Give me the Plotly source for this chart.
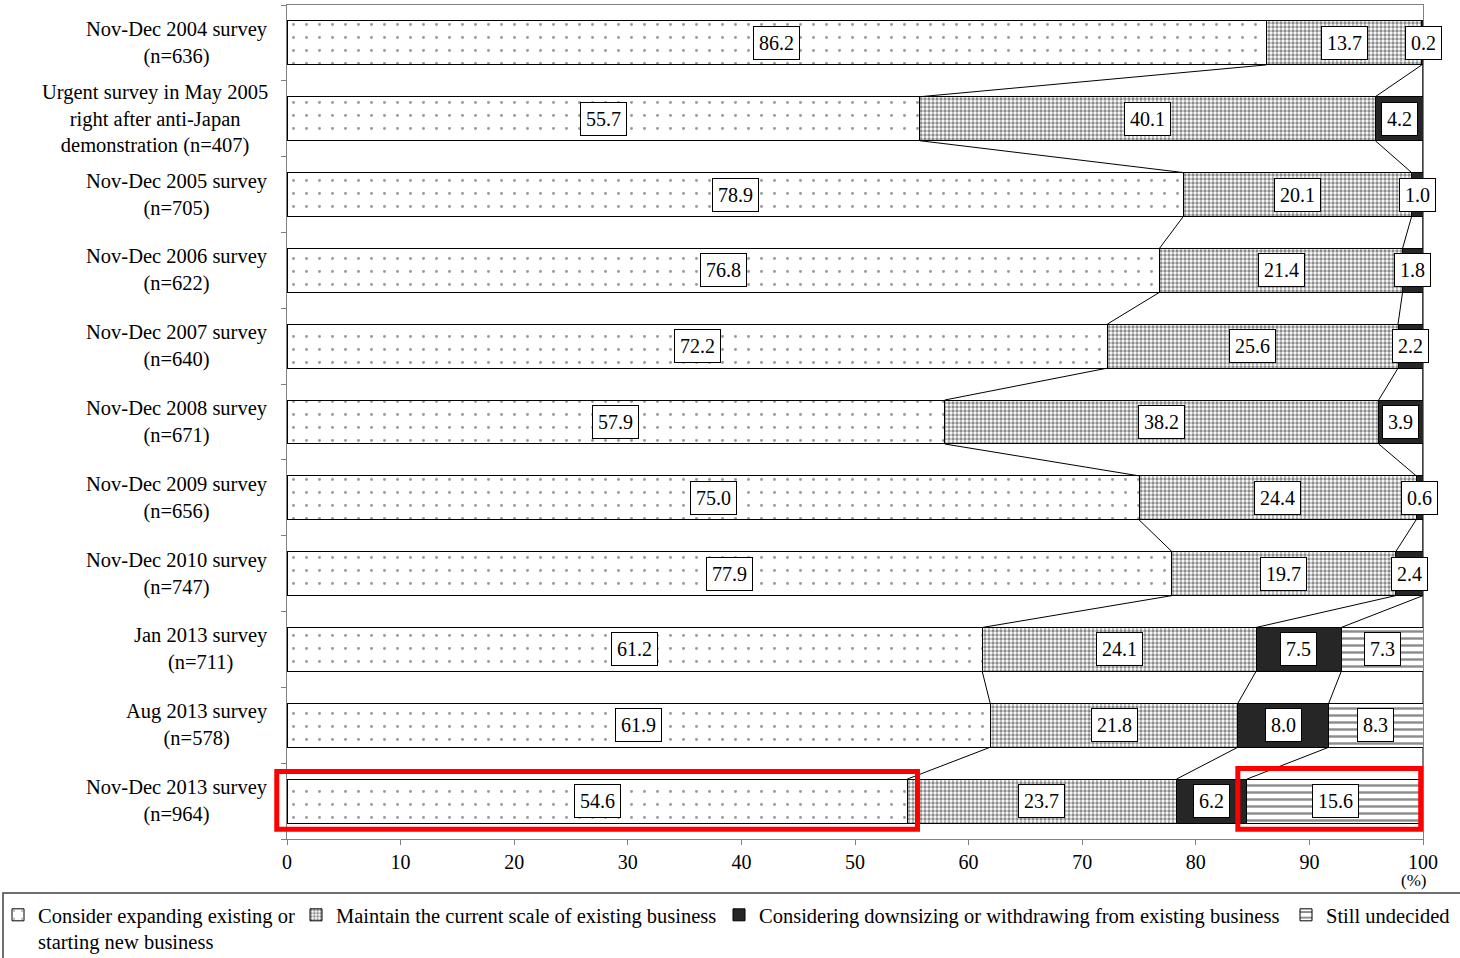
import plotly.graph_objects as go

# data
surveys = [
    "Nov-Dec 2004 survey<br>(n=636)",
    "Urgent survey in May 2005<br>right after anti-Japan<br>demonstration (n=407)",
    "Nov-Dec 2005 survey<br>(n=705)",
    "Nov-Dec 2006 survey<br>(n=622)",
    "Nov-Dec 2007 survey<br>(n=640)",
    "Nov-Dec 2008 survey<br>(n=671)",
    "Nov-Dec 2009 survey<br>(n=656)",
    "Nov-Dec 2010 survey<br>(n=747)",
    "Jan 2013 survey<br>(n=711)",
    "Aug 2013 survey<br>(n=578)",
    "Nov-Dec 2013 survey<br>(n=964)",
]
expand = [86.2, 55.7, 78.9, 76.8, 72.2, 57.9, 75.0, 77.9, 61.2, 61.9, 54.6]
maintain = [13.7, 40.1, 20.1, 21.4, 25.6, 38.2, 24.4, 19.7, 24.1, 21.8, 23.7]
downsize = [0.2, 4.2, 1.0, 1.8, 2.2, 3.9, 0.6, 2.4, 7.5, 8.0, 6.2]
undecided = [None, None, None, None, None, None, None, None, 7.3, 8.3, 15.6]

series_names = [
    "Consider expanding existing or<br>starting new business",
    "Maintain the current scale of existing business",
    "Considering downsizing or withdrawing from existing business",
    "Still undecided",
]

FONT = "Liberation Serif"
W, H = 1460, 958
ML, MR, MT, MB = 287, 37, 5, 119
PW, PH = W - ML - MR, H - MT - MB
BAR_W = 0.58
X_MAX = 100


def px_x(p):
    return (p - ML) / PW


def px_y(p):
    return (H - MB - p) / PH


rows = list(range(len(surveys)))
Y_LO, Y_HI = -0.5, len(rows) - 0.5


def data_to_paper_y(v):
    # reversed category axis: first row at the top
    return (Y_HI - v) / (Y_HI - Y_LO)


all_series = [expand, maintain, downsize, undecided]
patterns = [
    dict(shape=".", size=13, solidity=0.04, fgcolor="#333333", bgcolor="white"),
    dict(shape=".", size=4, solidity=0.55, fgcolor="#1a1a1a", bgcolor="white"),
    dict(shape="", fgcolor="#262626", bgcolor="#262626"),
    dict(shape="-", size=7, solidity=0.35, fgcolor="#1a1a1a", bgcolor="white"),
]
colors = ["white", "white", "#262626", "white"]
legend_ids = ["legend", "legend2", "legend3", "legend4"]

fig = go.Figure()

for vals, name, pat, col, lg in zip(all_series, series_names, patterns, colors, legend_ids):
    fig.add_trace(go.Bar(
        y=rows, x=vals, orientation="h", name=name, width=BAR_W,
        marker=dict(color=col, pattern=pat, line=dict(color="black", width=1)),
        legend=lg, hoverinfo="skip",
    ))

# cumulative boundaries per row (missing series counts as 0)
bounds = []
for i in rows:
    c, b = 0, []
    for s in all_series:
        c += s[i] or 0
        b.append(min(c, X_MAX))
    bounds.append(b)

# series lines between adjacent bars
lx, ly = [], []
for i in rows[:-1]:
    for k in range(len(all_series)):
        lx += [bounds[i][k], bounds[i + 1][k], None]
        ly += [i + BAR_W / 2, i + 1 - BAR_W / 2, None]
fig.add_trace(go.Scatter(x=lx, y=ly, mode="lines", line=dict(color="black", width=1),
                         showlegend=False, hoverinfo="skip", cliponaxis=False))

annotations = []
# value labels
for i in rows:
    start = 0
    for s in all_series:
        v = s[i]
        if v is None:
            continue
        annotations.append(dict(
            x=start + v / 2, y=i, xref="x", yref="y", text=f"{v:.1f}", showarrow=False,
            font=dict(family=FONT, size=20, color="black"), bgcolor="white",
            bordercolor="black", borderwidth=1, borderpad=5,
        ))
        start += v

# category labels
for i, lab in enumerate(surveys):
    annotations.append(dict(
        x=px_x(270), y=i, xref="paper", yref="y", text=lab, showarrow=False,
        xanchor="right", yanchor="middle", align="center",
        font=dict(family=FONT, size=20.5, color="black"),
    ))

annotations.append(dict(x=px_x(1413), y=px_y(881), xref="paper", yref="paper", text="(%)",
                        xanchor="center", yanchor="middle", showarrow=False,
                        font=dict(family=FONT, size=17, color="black")))

# highlight boxes on the latest survey (paper refs so the frame is not clipped)
last = rows[-1]
shapes = [
    dict(type="rect", xref="paper", yref="paper",
         x0=-0.9 / X_MAX, x1=(expand[last] + 0.9) / X_MAX,
         y0=data_to_paper_y(last - 0.39), y1=data_to_paper_y(last + 0.37),
         line=dict(color="#ff0000", width=5), layer="above"),
    dict(type="rect", xref="paper", yref="paper",
         x0=(X_MAX - undecided[last] - 0.7) / X_MAX, x1=99.8 / X_MAX,
         y0=data_to_paper_y(last - 0.43), y1=data_to_paper_y(last + 0.37),
         line=dict(color="#ff0000", width=5), layer="above"),
    # legend frame
    dict(type="rect", xref="paper", yref="paper", x0=px_x(3), x1=px_x(1470),
         y0=px_y(893), y1=px_y(980), line=dict(color="#404040", width=1.5)),
]

legend_text_x = [40, 338, 761, 1328]
legend_common = dict(orientation="h", xanchor="left", yanchor="top", y=px_y(895),
                     bgcolor="rgba(0,0,0,0)", borderwidth=0, valign="top",
                     font=dict(family=FONT, size=20.5, color="black"))

fig.update_layout(
    width=W, height=H,
    margin=dict(l=ML, r=MR, t=MT, b=MB, autoexpand=False),
    paper_bgcolor="white", plot_bgcolor="white",
    barmode="stack", bargap=0.42,
    font=dict(family=FONT, color="black"),
    xaxis=dict(range=[0, X_MAX], dtick=10, ticks="outside", ticklen=5, tickcolor="#808080",
               showline=True, linecolor="#808080", mirror=True, showgrid=False, zeroline=False,
               tickfont=dict(family=FONT, size=20, color="black")),
    yaxis=dict(range=[Y_HI, Y_LO], tickmode="array",
               tickvals=[i - 0.5 for i in range(len(rows) + 1)], ticks="outside", ticklen=5,
               tickcolor="#808080", showticklabels=False, showline=True, linecolor="#808080",
               mirror=True, showgrid=False, zeroline=False),
    annotations=annotations,
    shapes=shapes,
    legend=dict(x=px_x(legend_text_x[0] - 42), **legend_common),
    legend2=dict(x=px_x(legend_text_x[1] - 42), **legend_common),
    legend3=dict(x=px_x(legend_text_x[2] - 42), **legend_common),
    legend4=dict(x=px_x(legend_text_x[3] - 42), **legend_common),
)

fig.write_html("out.html", config={"displayModeBar": False},
               post_script="document.body.style.margin='0px';")
